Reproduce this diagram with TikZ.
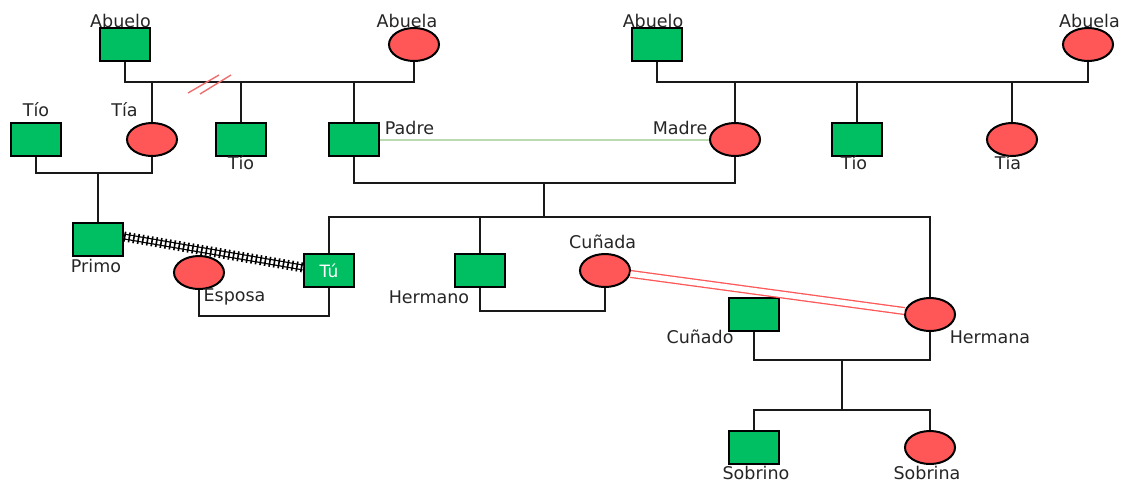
\documentclass[tikz,border=0pt]{standalone}
\usepackage{fontspec}
\setmainfont{DejaVu Sans}
\usetikzlibrary{shapes.geometric,calc}
\definecolor{mgreen}{RGB}{0,191,99}
\definecolor{fred}{RGB}{255,87,87}
\definecolor{pmcol}{RGB}{188,218,176}
\definecolor{hashred}{RGB}{240,110,110}
\tikzset{
  male/.style={draw=black, line width=2pt, fill=mgreen, rectangle, minimum width=50pt, minimum height=33pt, inner sep=0pt},
  female/.style={draw=black, line width=2pt, fill=fred, ellipse, minimum width=50pt, minimum height=33pt, inner sep=0pt},
  lbl/.style={font=\fontsize{17.5}{20}\selectfont, text=black!85, anchor=base, inner sep=0pt},
  rel/.style={line width=2pt, black!90},
  hashmark/.style={line width=1.4pt, hashred},
  marr/.style={line width=2pt, pmcol},
  dblred/.style={draw=fred, double=white, double distance=5.5pt, line width=1.3pt},
}
\begin{document}
\begin{tikzpicture}[x=1pt,y=-1pt]
\useasboundingbox[fill=white] (0,0) rectangle (1128,483);
% people
\node[male] (ab1) at (125,44.5) {};
\node[female] (ag1) at (414,44.5) {};
\node[male] (tio1) at (36,139.5) {};
\node[female] (tia1) at (152,139.5) {};
\node[male] (tio2) at (241,139.5) {};
\node[male] (pad) at (354,139.5) {};
\node[female] (mad) at (735,139.5) {};
\node[male] (ab2) at (657,44.5) {};
\node[female] (ag2) at (1088,44.5) {};
\node[male] (tio3) at (857,139.5) {};
\node[female] (tia3) at (1012,139.5) {};
\node[male] (pri) at (98,239.5) {};
\node[female] (esp) at (199,272.5) {};
\node[male] (tu) at (329,270.5) {\fontsize{17}{19}\selectfont\color{white}Tú};
\node[male] (her) at (480,270.5) {};
\node[female] (cda) at (605,270.5) {};
\node[female] (hna) at (930,314.5) {};
\node[male] (cdo) at (754,314.5) {};
\node[male] (sob) at (754,447.5) {};
\node[female] (sba) at (930,447.5) {};
% helper coordinates
\coordinate (r1) at (0,82);
\coordinate (c1) at (0,173);
\coordinate (pm) at (0,183);
\coordinate (d1) at (544,183);
\coordinate (d2) at (544,217);
\coordinate (e1) at (842,359);
\coordinate (e2) at (842,410);
% paternal grandparents
\draw[rel] (ab1.south) |- (r1 -| ag1.south) -- (ag1.south);
\draw[rel] (tia1.north) -- (tia1.north |- r1);
\draw[rel] (tio2.north) -- (tio2.north |- r1);
\draw[rel] (pad.north) -- (pad.north |- r1);
\draw[hashmark] (188,93) -- (219,75);
\draw[hashmark] (200,94) -- (231,75);
% maternal grandparents
\draw[rel] (ab2.south) |- (r1 -| ag2.south) -- (ag2.south);
\draw[rel] (mad.north) -- (mad.north |- r1);
\draw[rel] (tio3.north) -- (tio3.north |- r1);
\draw[rel] (tia3.north) -- (tia3.north |- r1);
% tio - tia -> primo
\draw[rel] (tio1.south) |- (c1 -| tia1.south) -- (tia1.south);
\draw[rel] (pri.north) -- (pri.north |- c1);
% padre - madre
\draw[marr] (pad.east) -- (mad.west);
\draw[rel] (pad.south) |- (pm -| mad.south) -- (mad.south);
\draw[rel] (d1) -- (d2);
\draw[rel] (tu.north) |- (d2) -| (hna.north);
\draw[rel] (her.north) -- (her.north |- d2);
% couples
\draw[rel] (esp.south) -- ++(0,26) -| (tu.south);
\draw[rel] (her.south) -- ++(0,23) -| (cda.south);
\draw[rel] (cdo.south) -- ++(0,28) -| (hna.south);
\draw[rel] (e1) -- (e2);
\draw[rel] (sob.north) |- (e2) -| (sba.north);
% special relations
\draw[dblred] (cda) -- (hna);
\draw[black, double=white, double distance=3.5pt, line width=1.2pt] ($(pri.east)+(0,-3)$) -- ($(tu.west)+(0,-3)$);
\draw[black, line width=10pt, dash pattern=on 1.6pt off 3pt] ($(pri.east)+(0,-3)$) -- ($(tu.west)+(0,-3)$);
% labels
\node[lbl] (lab1) at (120.5,27) {Abuelo};
\node[lbl] (lag1) at (407,27) {Abuela};
\node[lbl] (ltio1) at (36,116) {Tío};
\node[lbl] (ltia1) at (124.5,116) {Tía};
\node[lbl] (ltio2) at (241,169) {Tío};
\node[lbl] (lpad) at (409.5,134) {Padre};
\node[lbl] (lmad) at (680,134) {Madre};
\node[lbl] (lab2) at (653,27) {Abuelo};
\node[lbl] (lag2) at (1089.5,27) {Abuela};
\node[lbl] (ltio3) at (854,169) {Tío};
\node[lbl] (ltia3) at (1008,169) {Tía};
\node[lbl] (lpri) at (96,272) {Primo};
\node[lbl] (lesp) at (234.5,301) {Esposa};
\node[lbl] (lher) at (429,303) {Hermano};
\node[lbl] (lcda) at (602.7,248) {Cuñada};
\node[lbl] (lcdo) at (700,343) {Cuñado};
\node[lbl] (lhna) at (990,343) {Hermana};
\node[lbl] (lsob) at (756,479) {Sobrino};
\node[lbl] (lsba) at (927,479) {Sobrina};
\end{tikzpicture}
\end{document}
